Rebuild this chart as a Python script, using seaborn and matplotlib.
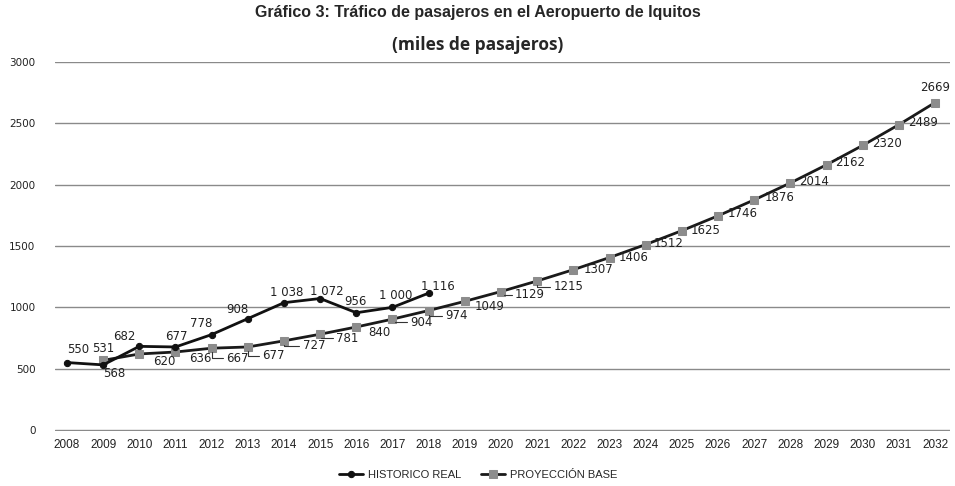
import matplotlib
matplotlib.use("Agg")
import matplotlib.pyplot as plt
import seaborn as sns
import pandas as pd

# ---- data ----
years_hist = list(range(2008, 2019))
hist_vals = [550, 531, 682, 677, 778, 908, 1038, 1072, 956, 1000, 1116]
hist_labels = ["550", "531", "682", "677", "778", "908", "1 038", "1 072", "956", "1 000", "1 116"]

years_proj = list(range(2009, 2033))
proj_vals = [568, 620, 636, 667, 677, 727, 781, 840, 904, 974, 1049, 1129, 1215,
             1307, 1406, 1512, 1625, 1746, 1876, 2014, 2162, 2320, 2489, 2669]
proj_labels = [str(v) for v in proj_vals]

x_ticks = list(range(2008, 2033))
y_ticks = [0, 500, 1000, 1500, 2000, 2500, 3000]

title = "Gráfico 3: Tráfico de pasajeros en el Aeropuerto de Iquitos"
subtitle = "(miles de pasajeros)"
series_names = ["HISTORICO REAL", "PROYECCIÓN BASE"]

# ---- label layout (pixel offsets, y down) ----
hist_off = [(11, -13), (0, -16), (-15, -10), (1, -10), (-10, -11), (-10, -9),
            (3, -10), (7, -7), (-1, -11), (3, -12), (9, -7)]
proj_off = [(11, 13), (25, 8), (25, 7), (26, 10), (26, 9), (30, 5), (27, 4), (23, 6),
            (29, 3), (28, 5), (25, 5), (29, 3), (31, 6), (25, 0), (24, 0), (23, -1),
            (24, 0), (25, -2), (25, -2), (24, -1), (24, -2), (24, -2), (24, -2), (0, -15)]
leader_years = {2012, 2013, 2014, 2015, 2017, 2018, 2020, 2021}

sns.set_style("white")
plt.rcParams["font.family"] = ["DejaVu Sans"]

fig = plt.figure(figsize=(9.55, 4.86), dpi=100)
ax = fig.add_axes([55 / 955, 1 - 431 / 486, (950 - 55) / 955, (431 - 62) / 486])

df_h = pd.DataFrame({"year": years_hist, "value": hist_vals})
df_p = pd.DataFrame({"year": years_proj, "value": proj_vals})

sns.lineplot(data=df_h, x="year", y="value", ax=ax, color="#111111", lw=2.0,
             marker="o", markersize=4.5, markerfacecolor="#111111",
             markeredgecolor="#111111", label=series_names[0], zorder=4)
sns.lineplot(data=df_p, x="year", y="value", ax=ax, color="#1a1a1a", lw=2.0,
             marker="s", markersize=6, markerfacecolor="#8c8c8c",
             markeredgecolor="#8c8c8c", label=series_names[1], zorder=3)

px = 0.72  # pixels -> points
fs_lab = 8.5
for yr, v, lab, (dx, dy) in zip(years_hist, hist_vals, hist_labels, hist_off):
    ax.annotate(lab, (yr, v), xytext=(dx * px, -dy * px), textcoords="offset points",
                ha="center", va="center", fontsize=fs_lab, color="#222222", zorder=6)

for yr, v, lab, (dx, dy) in zip(years_proj, proj_vals, proj_labels, proj_off):
    if yr in leader_years:
        ax.annotate(lab, (yr, v), xytext=(dx * px, -dy * px), textcoords="offset points",
                    ha="center", va="center", fontsize=fs_lab, color="#222222", zorder=6,
                    arrowprops=dict(arrowstyle="-", color="#333333", lw=0.8,
                                    connectionstyle="angle,angleA=0,angleB=90,rad=0",
                                    shrinkA=12, shrinkB=3))
    else:
        ax.annotate(lab, (yr, v), xytext=(dx * px, -dy * px), textcoords="offset points",
                    ha="center", va="center", fontsize=fs_lab, color="#222222", zorder=6)

ax.set_xlim(2008 - 12 / 36.17, 2032 + 15 / 36.17)
ax.set_ylim(-8, 3000)
ax.set_xticks(x_ticks)
ax.set_xticklabels([str(t) for t in x_ticks], fontsize=8.5,
                   family=["Liberation Sans Narrow", "Liberation Sans", "DejaVu Sans"])
ax.set_yticks(y_ticks)
ax.set_yticklabels([str(t) for t in y_ticks], fontsize=7.5)
ax.tick_params(axis="both", length=0, colors="#222222")
ax.tick_params(axis="x", pad=6)
ax.tick_params(axis="y", pad=14)
ax.grid(axis="y", color="#8a8a8a", lw=1.0)
ax.grid(axis="x", visible=False)
for s in ax.spines.values():
    s.set_visible(False)
ax.set_xlabel("")
ax.set_ylabel("")

ax.legend(loc="center", bbox_to_anchor=(478 / 955, 1 - 475 / 486), bbox_transform=fig.transFigure,
          ncol=2, frameon=False, handlelength=2.2, handletextpad=0.4, columnspacing=1.8,
          prop={"family": ["Liberation Sans", "DejaVu Sans"], "size": 8})

fig.text(0.5, 1 - 13 / 486, title, ha="center", va="center", fontsize=11.5,
         fontweight="bold", family=["Liberation Sans", "DejaVu Sans"])
fig.text(0.5, 1 - 45 / 486, subtitle, ha="center", va="center", fontsize=12.5,
         fontweight="bold", family=["Open Sans", "DejaVu Sans"])

fig.savefig("out.png", dpi=100)
